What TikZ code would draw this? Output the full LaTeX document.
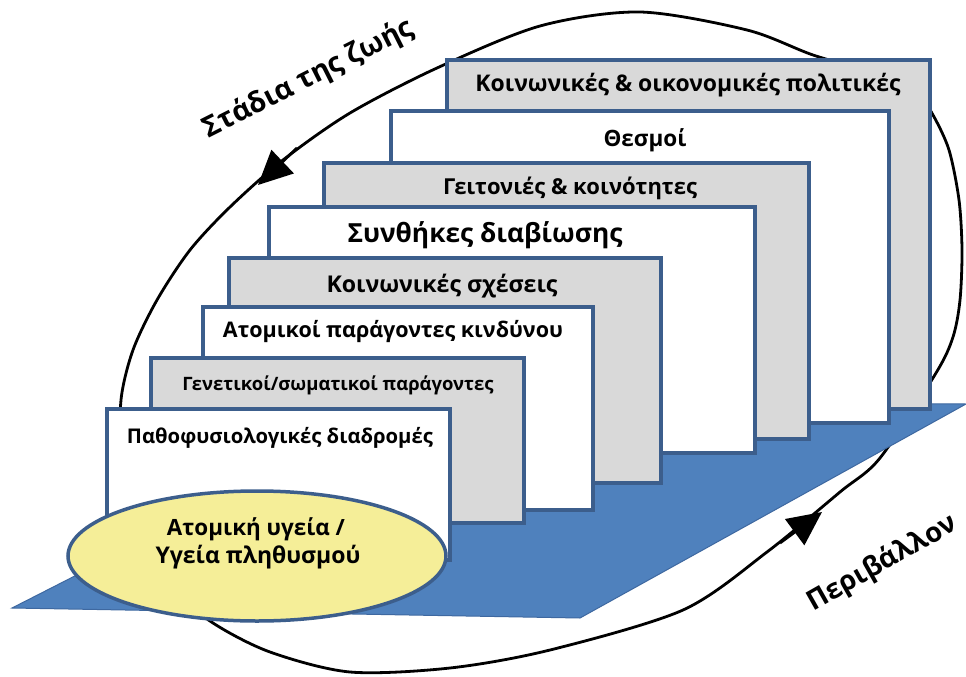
\documentclass[tikz,border=0pt]{standalone}
\usepackage{fontspec}
\setmainfont{Open Sans}
\usepackage{graphicx}
\usetikzlibrary{arrows.meta,shapes.geometric}

\definecolor{edgeblue}{RGB}{60,94,140}
\definecolor{panelgray}{RGB}{217,217,217}
\definecolor{floorblue}{RGB}{79,129,189}
\definecolor{floorline}{RGB}{62,104,160}
\definecolor{healthyellow}{RGB}{245,238,152}

% scale a piece of text to a given width (in pt), keeping its proportions
\newcommand\fitw[2]{\resizebox{#1pt}{!}{#2}}

\begin{document}
\begin{tikzpicture}[x=1pt,y=-1pt,
  bigtip/.tip={Triangle[length=34pt,width=32pt]},
  greypanel/.style={draw=edgeblue,line width=3.5pt,fill=panelgray},
  whitepanel/.style={draw=edgeblue,line width=3.5pt,fill=white},
  paneltext/.style={inner sep=0pt,anchor=base,font=\bfseries},
  cycletext/.style={inner sep=0pt,anchor=base,font=\bfseries},
  cycleline/.style={line width=2.8pt,black},
  cyclearrow/.style={cycleline,-{bigtip}}
]
\useasboundingbox (0,0) rectangle (966,677);
\fill[white] (0,0) rectangle (966,677);

% life-course loop around the whole model
\draw[cycleline] plot[smooth cycle] coordinates {
  (640,12) (540,26) (437,68) (350,113) (283,160) (230,207) (190,250)
  (157,300) (133,350) (121,400) (122,460) (140,530) (175,590) (213,623)
  (270,652) (350,672) (450,668) (550,650) (683,610) (767,552) (840,492)
  (880,458) (936,373) (953,337) (960,300) (962,250) (959,200) (949,150)
  (933,115) (918,95) (880,75) (813,55) (747,30)};

% direction of travel along the loop
\coordinate (up1) at (297,148);
\coordinate (tip1) at (258,185);
\coordinate (up2) at (780,543);
\coordinate (tip2) at (822,512);
\draw[cyclearrow] (up1) -- (tip1);
\draw[cyclearrow] (up2) -- (tip2);

% the ground plane
\draw[fill=floorblue,draw=floorline,line width=1pt]
  (12,608) -- (580,618) -- (966,404) -- (420,400) -- cycle;

% layers, from the outermost to the innermost
\draw[greypanel]  (447,60)  rectangle (930,409);
\draw[whitepanel] (391,111) rectangle (889,423);
\draw[greypanel]  (324,163) rectangle (809,439);
\draw[whitepanel] (269,207) rectangle (755,453);
\draw[greypanel]  (229,258) rectangle (661,483);
\draw[whitepanel] (203,307) rectangle (593,510);
\draw[greypanel]  (151,358) rectangle (524,523);
\draw[whitepanel] (107,409) rectangle (450,560);

\node[paneltext] (t1) at (688,91)  {\fitw{425}{Κοινωνικές \& οικονομικές πολιτικές}};
\node[paneltext] (t2) at (645,146) {\fitw{83}{Θεσμοί}};
\node[paneltext] (t3) at (570,194) {\fitw{254}{Γειτονιές \& κοινότητες}};
\node[paneltext] (t4) at (485,242) {\fitw{275}{Συνθήκες διαβίωσης}};
\node[paneltext] (t5) at (442,292) {\fitw{231}{Κοινωνικές σχέσεις}};
\node[paneltext] (t6) at (393,337) {\fitw{340}{Ατομικοί παράγοντες κινδύνου}};
\node[paneltext] (t7) at (338,390) {\fitw{311}{Γενετικοί/σωματικοί παράγοντες}};
\node[paneltext] (t8) at (280,443) {\fitw{306}{Παθοφυσιολογικές διαδρομές}};

% individual / population health
\node[ellipse,draw=edgeblue,line width=3.5pt,fill=healthyellow,
      minimum width=378pt,minimum height=130pt,inner sep=0pt] (health) at (257,556) {};
\node[paneltext] (h1) at (256,535) {\fitw{178}{Ατομική υγεία /}};
\node[paneltext] (h2) at (258,563) {\fitw{205}{Υγεία πληθυσμού}};

% loop labels
\node[cycletext,rotate=26.7] (stages) at (312,86) {\fitw{232}{Στάδια της ζωής}};
\node[cycletext,rotate=29.5] (environment) at (886,570) {\fitw{167}{Περιβάλλον}};
\end{tikzpicture}
\end{document}
